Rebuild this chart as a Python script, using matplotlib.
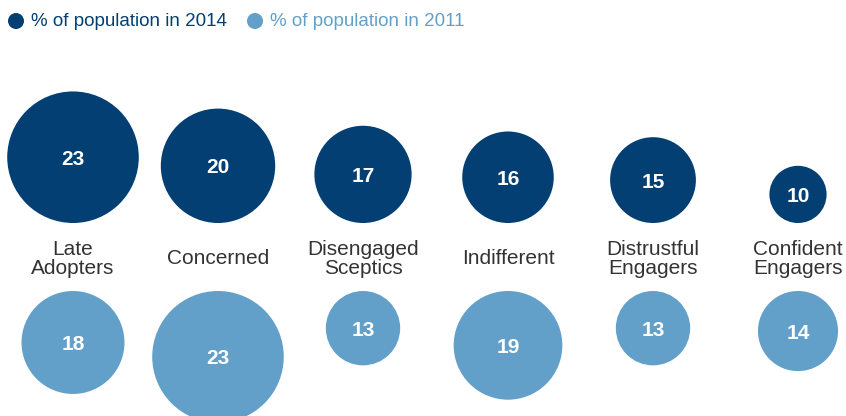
import matplotlib
matplotlib.use("Agg")
import matplotlib.pyplot as plt
from matplotlib.patches import Circle

plt.rcParams['font.family'] = ['Liberation Sans', 'DejaVu Sans']

segments = ["Late\nAdopters", "Concerned", "Disengaged\nSceptics",
            "Indifferent", "Distrustful\nEngagers", "Confident\nEngagers"]
pct_2014 = [23, 20, 17, 16, 15, 10]
pct_2011 = [18, 23, 13, 19, 13, 14]
series_names = ["% of population in 2014", "% of population in 2011"]

dark = "#033f73"
light = "#63a0c9"

W, H = 846, 416
fig = plt.figure(figsize=(W / 100, H / 100), dpi=100)
ax = fig.add_axes([0, 0, 1, 1])
ax.set_xlim(0, W)
ax.set_ylim(H, 0)
ax.axis("off")

px_per_unit = 2.86   # circle radius per percentage point
x0, dx = 73, 145
base_2014 = 223      # bottom edge of the 2014 circles
top_2011 = 291       # top edge of the 2011 circles
label_y = 259
num_shift = 2        # digits have no descenders, nudge them down a bit

for i, name in enumerate(segments):
    cx = x0 + dx * i

    r = pct_2014[i] * px_per_unit
    cy = base_2014 - r
    ax.add_patch(Circle((cx, cy), r, color=dark, lw=0))
    ax.text(cx, cy + num_shift, str(pct_2014[i]), color="white", fontsize=15,
            fontweight="bold", ha="center", va="center")

    r = pct_2011[i] * px_per_unit
    cy = top_2011 + r
    ax.add_patch(Circle((cx, cy), r, color=light, lw=0))
    ax.text(cx, cy + num_shift, str(pct_2011[i]), color="white", fontsize=15,
            fontweight="bold", ha="center", va="center")

    ax.text(cx, label_y, name, color="#333333", fontsize=15,
            ha="center", va="center", linespacing=0.95)

# legend
for lx, name, col in [(16, series_names[0], dark), (255, series_names[1], light)]:
    ax.add_patch(Circle((lx, 21), 8, color=col, lw=0))
    ax.text(lx + 15, 22, name, color=col, fontsize=13.5, ha="left", va="center")

fig.savefig("out.png", dpi=100)
